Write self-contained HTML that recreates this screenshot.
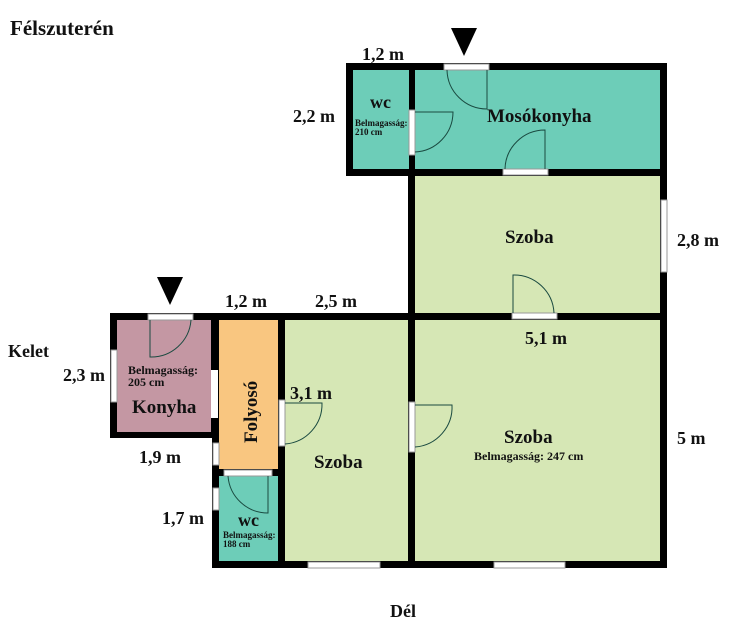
<!DOCTYPE html>
<html><head><style>body{margin:0;background:#fff}svg{display:block}text{font-family:"Liberation Serif",serif;font-weight:bold;fill:#111}</style></head><body>
<svg width="730" height="627" viewBox="0 0 730 627" xmlns="http://www.w3.org/2000/svg">
<rect x="346" y="63" width="321" height="113" fill="#000"/>
<rect x="408" y="169" width="259" height="399" fill="#000"/>
<rect x="110" y="313" width="557" height="7" fill="#000"/>
<rect x="110" y="313" width="108" height="125" fill="#000"/>
<rect x="212" y="313" width="455" height="255" fill="#000"/>
<rect x="353" y="70" width="56" height="99" fill="#6dcdb8"/>
<rect x="415" y="70" width="245" height="99" fill="#6dcdb8"/>
<rect x="415" y="176" width="245" height="137" fill="#d6e7b5"/>
<rect x="117" y="320" width="94" height="112" fill="#c497a3"/>
<rect x="219" y="320" width="59" height="149" fill="#f9c680"/>
<rect x="219" y="476" width="59" height="85" fill="#6dcdb8"/>
<rect x="285" y="320" width="123" height="241" fill="#d6e7b5"/>
<rect x="415" y="320" width="245" height="241" fill="#d6e7b5"/>
<g fill="#fff" stroke="#999" stroke-width="1">
<rect x="444" y="64" width="45" height="6"/>
<rect x="503" y="169" width="45" height="6"/>
<rect x="409" y="110" width="6" height="45"/>
<rect x="661" y="200" width="6" height="72"/>
<rect x="512" y="313" width="45" height="6"/>
<rect x="111" y="350" width="6" height="52"/>
<rect x="148" y="314" width="45" height="6"/>
<rect x="279" y="400" width="6" height="46"/>
<rect x="409" y="402" width="6" height="50"/>
<rect x="213" y="443" width="6" height="22"/>
<rect x="224" y="470" width="48" height="6"/>
<rect x="213" y="488" width="6" height="22"/>
<rect x="308" y="562" width="72" height="6"/>
<rect x="494" y="562" width="71" height="6"/>
</g>
<rect x="211" y="370" width="7" height="48" fill="#fff"/>
<g fill="none" stroke="#1a4a40" stroke-width="1">
<path d="M447,70 A40,40 0 0 0 487,109 L487,70"/>
<path d="M545,169 L545,130 A40,40 0 0 0 505,169"/>
<path d="M415,112 L453,112 A40,40 0 0 1 415,152"/>
<path d="M513,313 L513,275 A40,40 0 0 1 554,313"/>
<path d="M150,320 L150,357 A40,40 0 0 0 191,320"/>
<path d="M285,403 L322,403 A40,40 0 0 1 285,444"/>
<path d="M415,405 L452,405 A40,40 0 0 1 415,447"/>
<path d="M228,476 A40,40 0 0 0 268,513 L268,476"/>
</g>
<polygon points="451,28 477,28 464,56" fill="#000"/>
<polygon points="157,277 183,277 170,305" fill="#000"/>
<text x="10" y="35" font-size="21">Félszuterén</text>
<text x="362" y="60" font-size="18">1,2 m</text>
<text x="293" y="122" font-size="18">2,2 m</text>
<text x="370" y="108" font-size="18">wc</text>
<text x="355" y="126" font-size="9">Belmagasság:</text>
<text x="355" y="135" font-size="9">210 cm</text>
<text x="487" y="122" font-size="19">Mosókonyha</text>
<text x="505" y="243" font-size="19">Szoba</text>
<text x="677" y="246" font-size="18">2,8 m</text>
<text x="225" y="307" font-size="18">1,2 m</text>
<text x="315" y="307" font-size="18">2,5 m</text>
<text x="525" y="344" font-size="18">5,1 m</text>
<text x="8" y="357" font-size="18">Kelet</text>
<text x="63" y="381" font-size="18">2,3 m</text>
<text x="128" y="374" font-size="12">Belmagasság:</text>
<text x="128" y="386" font-size="12">205 cm</text>
<text x="132" y="413" font-size="19">Konyha</text>
<text transform="translate(257,443) rotate(-90)" font-size="19">Folyosó</text>
<text x="290" y="399" font-size="18">3,1 m</text>
<text x="314" y="468" font-size="19">Szoba</text>
<text x="504" y="443" font-size="19">Szoba</text>
<text x="474" y="460" font-size="12">Belmagasság: 247 cm</text>
<text x="677" y="444" font-size="18">5 m</text>
<text x="139" y="463" font-size="18">1,9 m</text>
<text x="162" y="524" font-size="18">1,7 m</text>
<text x="238" y="526" font-size="18">wc</text>
<text x="223" y="538" font-size="9">Belmagasság:</text>
<text x="223" y="547" font-size="9">188 cm</text>
<text x="390" y="617" font-size="18">Dél</text>
</svg>
</body></html>
